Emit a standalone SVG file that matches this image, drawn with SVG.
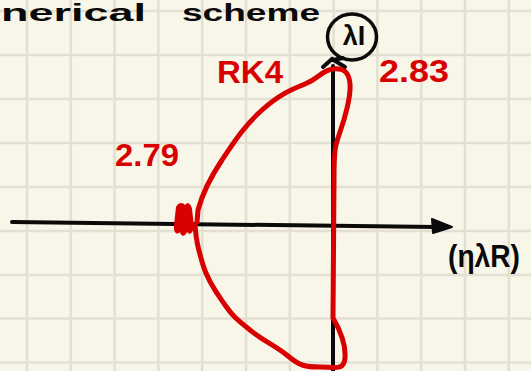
<svg xmlns="http://www.w3.org/2000/svg" width="531" height="371" viewBox="0 0 531 371">
<defs>
<style>
.grid line{stroke:#e3e0d3;stroke-width:2.5}
.ax{stroke:#0a0a0a;stroke-width:4;fill:none;stroke-linecap:round}
.ink{font-family:"Liberation Sans",Arial,sans-serif;fill:#0a0a0a}
.red{font-family:"Liberation Sans",Arial,sans-serif;fill:#d80000;font-weight:bold}
.curve{stroke:#d80000;stroke-width:5;fill:none;stroke-linecap:round;stroke-linejoin:round}
</style>
</defs>
<rect width="531" height="371" fill="#f8f6e9"/>
<g class="grid">
<line x1="27" y1="0" x2="27" y2="371"/><line x1="70.8" y1="0" x2="70.8" y2="371"/><line x1="114.6" y1="0" x2="114.6" y2="371"/><line x1="158.4" y1="0" x2="158.4" y2="371"/><line x1="202.2" y1="0" x2="202.2" y2="371"/><line x1="246" y1="0" x2="246" y2="371"/><line x1="289.8" y1="0" x2="289.8" y2="371"/><line x1="333.6" y1="0" x2="333.6" y2="371"/><line x1="377.4" y1="0" x2="377.4" y2="371"/><line x1="421.2" y1="0" x2="421.2" y2="371"/><line x1="465" y1="0" x2="465" y2="371"/><line x1="508.8" y1="0" x2="508.8" y2="371"/>
<line x1="0" y1="11" x2="531" y2="11"/><line x1="0" y1="55" x2="531" y2="55"/><line x1="0" y1="99" x2="531" y2="99"/><line x1="0" y1="143" x2="531" y2="143"/><line x1="0" y1="187" x2="531" y2="187"/><line x1="0" y1="231" x2="531" y2="231"/><line x1="0" y1="275" x2="531" y2="275"/><line x1="0" y1="318.6" x2="531" y2="318.6"/><line x1="0" y1="362.4" x2="531" y2="362.4"/>
</g>
<g id="title">
<text class="ink" x="1" y="21" font-size="23" font-weight="bold" textLength="145" lengthAdjust="spacingAndGlyphs">nerical</text>
<text class="ink" x="182" y="21" font-size="23" font-weight="bold" textLength="138" lengthAdjust="spacingAndGlyphs">scheme</text>
</g>
<g id="connectors">
<path class="ax" d="M12 222 L436 227"/>
<path d="M432 219 L452 227 L433 233 Z" fill="#0a0a0a" stroke="#0a0a0a" stroke-width="2" stroke-linejoin="round"/>
<path class="ax" d="M333 371 L333 66"/>
<path class="ax" d="M323 67 L332 59 L345 67 M333 60 L343 58"/>
</g>
<g id="imag-label">
<ellipse cx="352" cy="37" rx="24.5" ry="23" fill="none" stroke="#0a0a0a" stroke-width="3.5"/>
<text class="ink" x="354" y="45" font-size="27" font-weight="bold" text-anchor="middle">λI</text>
</g>
<g id="real-label">
<text class="ink" x="448" y="267" font-size="32" font-weight="bold" textLength="72" lengthAdjust="spacingAndGlyphs">(ηλR)</text>
</g>
<g id="rk4-region">
<path class="curve" d="M197 222 L198 210 C202 195 210 178 222 160 S245 125 262 110 S290 90 305 84 S322 70 333 69 S349 72 350 84 S345 118 340 132 S334 150 334 180 L333 318 C340 330 346 345 345 358 S335 367 320 367 S300 366 288 356 S265 342 250 330 S232 315 225 305 S208 282 203 265 S196 240 195 225"/>
<path d="M176 207 C178 202 183 202 185 205 C187 202 191 203 192 209 L194 226 C193 233 190 236 187 232 C185 237 181 237 180 232 C177 236 173 232 174 225 Z" fill="#d80000"/>
<text class="red" x="217" y="83" font-size="32" textLength="66" lengthAdjust="spacingAndGlyphs">RK4</text>
<text class="red" x="379" y="82" font-size="32" textLength="70" lengthAdjust="spacingAndGlyphs">2.83</text>
<text class="red" x="115" y="166" font-size="32" textLength="64" lengthAdjust="spacingAndGlyphs">2.79</text>
</g>
</svg>
